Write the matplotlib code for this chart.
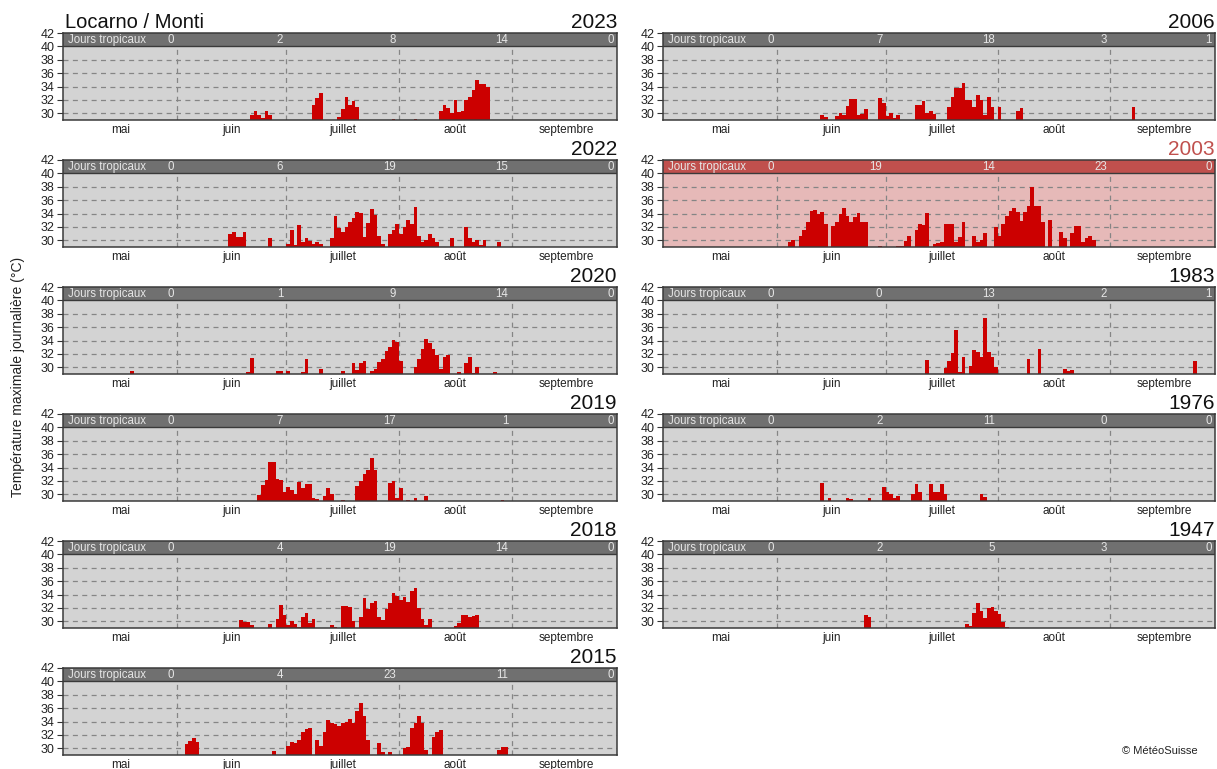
import matplotlib
matplotlib.use("Agg")
import matplotlib.pyplot as plt
import numpy as np
import pandas as pd

plt.rcParams['font.family'] = ['Liberation Sans', 'DejaVu Sans']

station = "Locarno / Monti"
months = ["mai", "juin", "juillet", "août", "septembre"]
month_len = [31, 30, 31, 31, 30]
ylabel = "Température maximale journalière (°C)"
header_label = "Jours tropicaux"
credit = "© MétéoSuisse"

left_years = [2023, 2022, 2020, 2019, 2018, 2015]
right_years = [2006, 2003, 1983, 1976, 1947]
highlight_year = 2003

# Jours tropicaux per month (mai .. septembre)
trop_2023 = [0, 2, 8, 14, 0]
trop_2022 = [0, 6, 19, 15, 0]
trop_2020 = [0, 1, 9, 14, 0]
trop_2019 = [0, 7, 17, 1, 0]
trop_2018 = [0, 4, 19, 14, 0]
trop_2015 = [0, 4, 23, 11, 0]
trop_2006 = [0, 7, 18, 3, 1]
trop_2003 = [0, 19, 14, 23, 0]
trop_1983 = [0, 0, 13, 2, 1]
trop_1976 = [0, 2, 11, 0, 0]
trop_1947 = [0, 2, 5, 3, 0]

# Daily maximum temperature (°C), runs of consecutive days starting at MM-DD
tmax_2023 = [("06-21", [29.8, 30.4, 29.8, 29.3, 30.3, 29.7]),
             ("07-08", [31.2, 32.3, 33.0]),
             ("07-15", [29.5, 30.6, 32.4, 31.2, 31.8, 31.0]),
             ("07-30", [29.2]),
             ("08-05", [29.1]),
             ("08-12", [30.4, 31.2, 30.8, 30.0, 32.0, 30.2, 30.3, 32.0, 32.5, 33.5, 35.0, 34.4, 34.4, 34.0])]
tmax_2022 = [("06-15", [31.0, 31.3, 30.5, 30.5, 31.3]),
             ("06-26", [30.3]),
             ("07-01", [29.4, 31.5, 29.3, 32.3, 29.7, 30.4, 29.9, 29.5, 29.8, 29.4]),
             ("07-13", [30.3, 33.7, 31.8, 31.2, 32.0, 32.7, 33.3, 34.3, 34.1, 30.5, 32.6, 34.7, 33.8, 30.6, 29.4]),
             ("07-29", [31.0, 31.6, 32.5, 31.0, 32.0, 33.0, 32.5, 35.0, 30.7, 29.8, 30.0, 31.0, 30.3, 29.7]),
             ("08-15", [30.4]),
             ("08-19", [32.0, 30.3, 29.8, 30.0, 29.3, 30.0]),
             ("08-28", [29.7])]
tmax_2020 = [("05-19", [29.5]),
             ("06-20", [29.3, 31.4]),
             ("06-28", [29.5, 29.5]),
             ("07-01", [29.4]),
             ("07-05", [29.3, 31.3]),
             ("07-10", [29.8]),
             ("07-16", [29.4]),
             ("07-19", [30.7, 29.6, 30.7, 31.0]),
             ("07-24", [29.4, 29.7, 30.8, 31.3, 32.4, 33.0, 34.1, 33.8, 31.0]),
             ("08-05", [30.0, 31.3, 32.8, 34.3, 33.6, 32.8, 31.8, 29.8, 31.6, 31.9]),
             ("08-17", [29.3]),
             ("08-19", [30.6, 31.6, 29.2, 30.1]),
             ("08-27", [29.3])]
tmax_2019 = [("06-23", [29.9, 31.4, 32.2, 34.9, 34.9, 32.3, 32.1, 30.4, 31.1, 30.7, 30.1, 31.8, 30.9, 31.5, 31.5, 29.4, 29.3]),
             ("07-11", [29.8, 30.9, 30.1]),
             ("07-16", [29.2]),
             ("07-20", [31.2, 32.0, 33.0, 33.7, 35.5, 33.7]),
             ("07-29", [31.7, 32.0, 29.5, 31.0]),
             ("08-03", [29.2]),
             ("08-05", [29.4]),
             ("08-08", [29.7]),
             ("08-29", [29.1])]
tmax_2018 = [("06-18", [30.2, 29.9, 29.9, 29.5]),
             ("06-26", [29.6]),
             ("06-28", [30.3, 32.5, 31.0, 29.4, 30.0, 29.6, 29.2, 30.6, 31.2, 29.8, 30.4]),
             ("07-13", [29.4, 29.2]),
             ("07-16", [32.3, 32.3, 32.2, 30.0]),
             ("07-21", [30.7, 33.5, 31.9, 32.7, 33.1, 30.6, 30.2, 31.9, 32.8, 34.3, 33.8, 33.2, 33.6, 32.9, 34.6, 35.0, 32.0, 30.3, 29.5, 30.4]),
             ("08-16", [29.3, 29.8, 30.9, 31.0, 30.7, 30.8, 30.9])]
tmax_2015 = [("06-03", [30.6, 31.1, 31.5, 31.0]),
             ("06-27", [29.6]),
             ("07-01", [30.3, 30.9, 30.8, 31.3, 32.5, 32.9, 33.0]),
             ("07-09", [31.3, 30.3, 32.4, 34.2, 33.8, 33.6, 33.3, 33.8, 34.0, 34.4, 33.8, 35.6, 36.8, 34.9, 31.2]),
             ("07-26", [30.8, 29.5]),
             ("07-29", [29.5]),
             ("08-02", [30.0, 30.2, 33.1, 33.8, 34.9, 33.8, 29.7]),
             ("08-10", [31.7, 32.4, 32.8]),
             ("08-28", [29.7, 30.2, 30.2])]
tmax_2006 = [("06-13", [29.8, 29.5]),
             ("06-17", [29.6, 30.0, 29.7, 31.1, 32.2, 32.2, 29.8, 29.9, 30.6]),
             ("06-29", [32.3, 31.6, 29.6, 30.0, 29.3, 29.7]),
             ("07-09", [31.2, 31.2, 31.8, 30.1, 30.4, 29.9]),
             ("07-18", [31.0, 32.4, 33.8, 33.8, 34.5, 32.0, 32.0, 30.9, 32.8, 32.0, 29.7, 32.4, 31.0]),
             ("08-01", [30.9]),
             ("08-06", [30.3, 30.8]),
             ("09-07", [30.9])]
tmax_2003 = [("06-04", [29.8, 30.0]),
             ("06-07", [30.7, 31.6, 32.7, 34.4, 34.6, 34.0, 34.2, 32.4]),
             ("06-16", [32.2, 32.7, 34.0, 34.8, 33.6, 32.7, 33.5, 34.1, 32.7, 32.7]),
             ("06-29", [29.2]),
             ("07-04", [29.1, 29.1, 29.9, 30.7]),
             ("07-09", [31.6, 32.5, 32.3, 34.1]),
             ("07-14", [29.5, 29.6, 29.8, 32.5, 32.5, 32.5, 29.7, 30.5, 32.8]),
             ("07-25", [30.7, 29.7, 30.0, 31.1]),
             ("07-31", [32.0, 30.7, 32.4, 33.6, 34.4, 34.9, 34.3, 32.9, 34.3, 35.1, 38.0, 35.2, 35.2, 32.7]),
             ("08-15", [33.1]),
             ("08-18", [31.2, 30.4]),
             ("08-21", [31.1, 32.1, 32.1, 29.8, 30.3, 30.7, 30.1])]
tmax_1983 = [("07-12", [31.1]),
             ("07-17", [29.9, 30.9, 32.2, 35.6, 29.3, 31.5]),
             ("07-24", [30.2, 32.6, 32.3, 31.6, 37.4, 32.3, 31.5, 30.0]),
             ("08-09", [31.2]),
             ("08-12", [32.7]),
             ("08-19", [29.8, 29.4, 29.6]),
             ("09-24", [31.0])]
tmax_1976 = [("06-13", [31.7]),
             ("06-15", [29.5]),
             ("06-20", [29.4, 29.3]),
             ("06-26", [29.4]),
             ("06-30", [31.1, 30.3, 30.1, 29.5, 29.8]),
             ("07-08", [30.0, 31.6, 30.4]),
             ("07-13", [31.6, 30.4, 30.4, 31.5, 30.0]),
             ("07-27", [30.0, 29.6])]
tmax_1947 = [("06-25", [30.9, 30.6]),
             ("07-23", [29.6, 29.3, 31.2, 32.8, 31.5, 30.5, 32.0, 32.2, 31.6, 31.1, 29.9, 29.2])]

tropical = {2023: trop_2023, 2022: trop_2022, 2020: trop_2020, 2019: trop_2019,
            2018: trop_2018, 2015: trop_2015, 2006: trop_2006, 2003: trop_2003,
            1983: trop_1983, 1976: trop_1976, 1947: trop_1947}
tmax = {2023: tmax_2023, 2022: tmax_2022, 2020: tmax_2020, 2019: tmax_2019,
        2018: tmax_2018, 2015: tmax_2015, 2006: tmax_2006, 2003: tmax_2003,
        1983: tmax_1983, 1976: tmax_1976, 1947: tmax_1947}

BASE = 29.0
YTOP = 42.0
STRIP = 40.0
XMIN, XMAX = -0.5, 152.0

bounds = np.cumsum([0] + month_len)          # 0,31,61,92,123,153
centers = (bounds[:-1] + bounds[1:]) / 2.0


def day_index(year, md):
    return (pd.Timestamp(f"{year}-{md}") - pd.Timestamp(f"{year}-05-01")).days


W, H = 1217, 769
fig = plt.figure(figsize=(W / 100, H / 100), dpi=100)

col_x = [(63, 617), (663, 1215)]
top0, pitch, ph = 33, 127, 87

normal = dict(bg="#d3d3d3", strip="#707070", title="#111111")
hot = dict(bg="#e6b9b8", strip="#c0504d", title="#c0504d")

grid_col = "#858585"
dash = (0, (4, 3.5))

for col, years in enumerate([left_years, right_years]):
    x0, x1 = col_x[col]
    for i, yr in enumerate(years):
        top = top0 + pitch * i
        ax = fig.add_axes([x0 / W, 1 - (top + ph) / H, (x1 - x0) / W, ph / H])
        sty = hot if yr == highlight_year else normal
        ax.set_facecolor(sty["bg"])
        ax.set_xlim(XMIN, XMAX)
        ax.set_ylim(BASE, YTOP)

        for gy in range(30, 40, 2):
            ax.axhline(gy, color=grid_col, lw=0.9, ls=dash, zorder=1)
        ax.vlines(bounds[1:-1], BASE, STRIP, colors=grid_col, lw=0.9,
                  linestyles=[dash], zorder=1)

        for md, vals in tmax[yr]:
            d0 = day_index(yr, md)
            days = d0 + np.arange(len(vals))
            v = np.array(vals)
            ax.bar(days, v - BASE, bottom=BASE, width=1.0, align="edge",
                   color="#cc0000", linewidth=0, zorder=2)

        ax.axhspan(STRIP, YTOP, color=sty["strip"], zorder=3, lw=0)
        ax.axhline(STRIP, color="#3a3a3a", lw=1.0, zorder=4)
        ax.text(XMIN + 1.5, 41.0, header_label, color="#e6e6e6", fontsize=8.3,
                ha="left", va="center", zorder=5)
        for b, n in zip(bounds[1:], tropical[yr]):
            xb = min(b, XMAX) - 0.9
            ax.text(xb, 41.0, str(n), color="#e6e6e6", fontsize=8.3,
                    ha="right", va="center", zorder=5)

        ax.set_yticks(range(30, 43, 2))
        ax.set_yticklabels([str(t) for t in range(30, 43, 2)], fontsize=9,
                           color="#222222")
        ax.tick_params(axis="y", length=4, width=0.8, pad=2, color="#333333")
        ax.set_xticks(centers)
        ax.set_xticklabels(months, fontsize=8.5, color="#222222")
        ax.tick_params(axis="x", length=0, pad=3)
        for sp in ax.spines.values():
            sp.set_color("#3a3a3a")
            sp.set_linewidth(1.1)
            sp.set_zorder(6)

        ax.text(1.0, 1.01, str(yr), transform=ax.transAxes, ha="right",
                va="bottom", fontsize=15, color=sty["title"])
        if col == 0 and i == 0:
            ax.text(0.003, 1.01, station, transform=ax.transAxes, ha="left",
                    va="bottom", fontsize=14.5, color="#111111")

fig.text(18 / W, 0.51, ylabel, rotation=90, ha="center", va="center",
         fontsize=10, color="#222222")
fig.text(1160 / W, 1 - 751 / H, credit, ha="center", va="center",
         fontsize=8, color="#222222")

fig.savefig("out.png", dpi=100)
